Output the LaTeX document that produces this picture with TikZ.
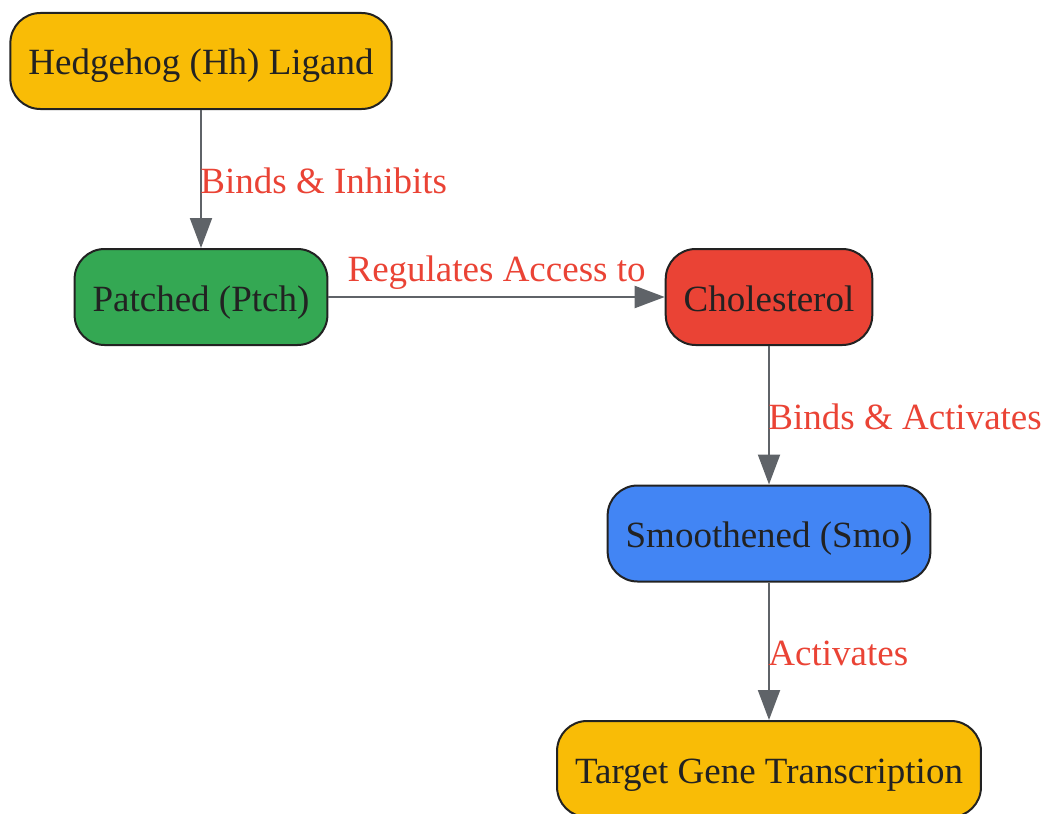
\documentclass[tikz,border=0pt]{standalone}
\usepackage{fontspec}
\setmainfont{Liberation Serif}
\usepackage{tikz}
\usepackage{xcolor}
\usetikzlibrary{arrows.meta}
\usetikzlibrary{positioning}

\definecolor{hhyellow}{HTML}{F9BC06}
\definecolor{ptchgreen}{HTML}{34A853}
\definecolor{cholred}{HTML}{EA4335}
\definecolor{smoblue}{HTML}{4285F4}
\definecolor{nodeline}{HTML}{222222}
\definecolor{nodetext}{HTML}{222222}
\definecolor{linkgray}{HTML}{5F6368}
\definecolor{labelred}{HTML}{EA4335}

\tikzset{
  protein/.style={draw=nodeline, line width=1pt, rounded corners=15pt,
    minimum height=48pt, inner xsep=9pt, text=nodetext,
    text height=16pt, text depth=2pt,
    font=\fontsize{18.5pt}{22pt}\selectfont},
  link/.style={draw=linkgray, line width=1pt,
    -{Triangle[length=15pt,width=11pt]}},
  linklabel/.style={text=labelred, inner sep=0pt,
    font=\fontsize{18.5pt}{22pt}\selectfont}
}

\begin{document}
\begin{tikzpicture}[x=0.5pt, y=-0.5pt]

  \useasboundingbox (0,0) rectangle (1042,813);

  % signalling cascade
  \node[protein, fill=hhyellow] (Hh) at (201,61) {Hedgehog (Hh) Ligand};
  \node[protein, fill=ptchgreen] (Ptch) at (201,297) {Patched (Ptch)};
  \node[protein, fill=cholred] (Chol) at (769,297) {Cholesterol};
  \node[protein, fill=smoblue] (Smo) at (769,533.5) {Smoothened (Smo)};
  \node[protein, fill=hhyellow] (Gene) at (769,769) {Target Gene Transcription};

  \draw[link] (Hh) -- (Ptch)
    node[linklabel, midway, anchor=west, xshift=-0.8pt, yshift=-1pt] {Binds \& Inhibits};
  \draw[link] (Ptch) -- (Chol)
    node[linklabel, midway, above=3.5pt] {Regulates Access to};
  \draw[link] (Chol) -- (Smo)
    node[linklabel, midway, anchor=west, xshift=-0.8pt, yshift=-1pt] {Binds \& Activates};
  \draw[link] (Smo) -- (Gene)
    node[linklabel, midway, anchor=west, xshift=-0.8pt, yshift=-1pt] {Activates};

\end{tikzpicture}
\end{document}
